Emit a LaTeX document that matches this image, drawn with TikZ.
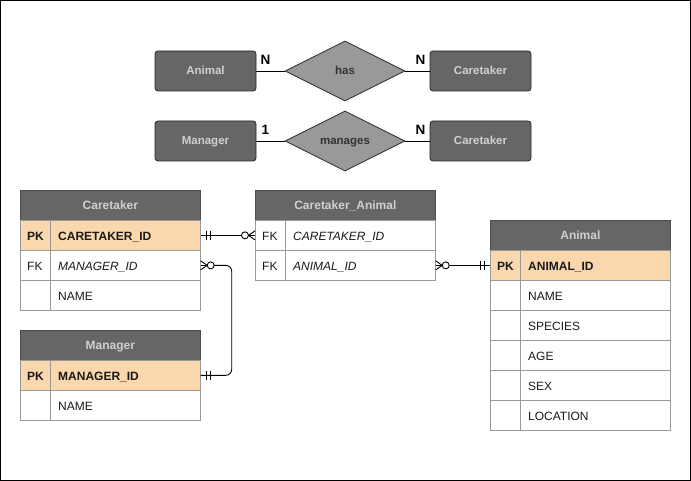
\documentclass[tikz,border=0pt]{standalone}
\usepackage{fontspec}
\setmainfont{Liberation Sans}
\usetikzlibrary{shapes.geometric}
\definecolor{hdrfill}{HTML}{666666}
\definecolor{hdrtext}{HTML}{D0D0D0}
\definecolor{pkfill}{HTML}{FAD7AC}
\definecolor{gridgray}{HTML}{999999}
\definecolor{relfill}{HTML}{999999}
\definecolor{reltext}{HTML}{333333}
\definecolor{ink}{HTML}{1A1A1A}
\newcommand\tblfont{\fontsize{12}{14}\selectfont}
\tikzset{
  entity/.style={draw=black!85, fill=hdrfill, rounded corners=3pt, minimum width=101pt,
    minimum height=40pt, inner sep=0pt, text height=8pt, text depth=0pt, text=hdrtext,
    font=\fontsize{11.5}{13}\selectfont\bfseries, line width=0.8pt},
  relation/.style={diamond, aspect=2, draw=black!85, fill=relfill, minimum width=120pt,
    minimum height=60pt, inner sep=0pt, text height=8pt, text depth=0pt, text=reltext,
    font=\fontsize{11.5}{13}\selectfont\bfseries, line width=0.8pt},
  card/.style={font=\fontsize{13.5}{15}\selectfont\bfseries, inner sep=0pt},
  hdr/.style={draw=black!70, fill=hdrfill, minimum width=180pt, minimum height=30pt, inner sep=0pt,
    text height=9pt, text depth=0pt, anchor=north west, text=hdrtext, font=\tblfont\bfseries, line width=0.7pt},
  row/.style={draw=gridgray, fill=white, minimum width=180pt, minimum height=30pt, inner sep=0pt,
    anchor=north west, line width=0.7pt},
  pkrow/.style={row, fill=pkfill},
  keytxt/.style={anchor=base west, inner sep=0pt, text=ink, font=\tblfont},
  fieldtxt/.style={anchor=base west, inner sep=0pt, text=ink, font=\tblfont},
  boldtxt/.style={font=\tblfont\bfseries},
  italtxt/.style={font=\tblfont\itshape},
  coldiv/.style={draw=gridgray, line width=0.7pt},
  conn/.style={draw=black, line width=0.9pt},
}
% baseline offsets inside a 30pt table row
\newcommand\keyat[1]{([xshift=7pt,yshift=-4.8pt]#1.west)}
\newcommand\fieldat[1]{([xshift=38pt,yshift=-4.8pt]#1.west)}
\begin{document}
\begin{tikzpicture}[x=1pt, y=-1pt]
  \useasboundingbox (0,0) rectangle (691,481);
  \draw[line width=1.3pt] (0.65,0.65) rectangle (690.35,480.35);

  % conceptual ER model
  \node[entity] (eAnimal) at (205.5,71) {Animal};
  \node[relation] (rHas) at (345,71) {has};
  \node[entity] (eCaretakerA) at (480.5,71) {Caretaker};
  \draw[conn] (eAnimal.east) -- (rHas.west);
  \draw[conn] (rHas.east) -- (eCaretakerA.west);
  \node[card] (cHasL) at (265.5,59.5) {N};
  \node[card] (cHasR) at (420.5,59.5) {N};

  \node[entity] (eManager) at (205.5,141) {Manager};
  \node[relation] (rManages) at (345,141) {manages};
  \node[entity] (eCaretakerB) at (480.5,141) {Caretaker};
  \draw[conn] (eManager.east) -- (rManages.west);
  \draw[conn] (rManages.east) -- (eCaretakerB.west);
  \node[card] (cManL) at (265.5,129.5) {1};
  \node[card] (cManR) at (420.5,129.5) {N};

  % table: Caretaker
  \node[hdr] (ctH) at (20,190) {Caretaker};
  \node[pkrow] (ctR1) at (20,220) {};
  \node[row] (ctR2) at (20,250) {};
  \node[row] (ctR3) at (20,280) {};
  \draw[coldiv] ([xshift=30pt]ctR1.north west) -- ([xshift=30pt]ctR3.south west);
  \node[keytxt, boldtxt] (ctK1) at \keyat{ctR1} {PK};
  \node[fieldtxt, boldtxt] (ctF1) at \fieldat{ctR1} {CARETAKER\_ID};
  \node[keytxt] (ctK2) at \keyat{ctR2} {FK};
  \node[fieldtxt, italtxt] (ctF2) at \fieldat{ctR2} {MANAGER\_ID};
  \node[fieldtxt] (ctF3) at \fieldat{ctR3} {NAME};

  % table: Manager
  \node[hdr] (mgH) at (20,330) {Manager};
  \node[pkrow] (mgR1) at (20,360) {};
  \node[row] (mgR2) at (20,390) {};
  \draw[coldiv] ([xshift=30pt]mgR1.north west) -- ([xshift=30pt]mgR2.south west);
  \node[keytxt, boldtxt] (mgK1) at \keyat{mgR1} {PK};
  \node[fieldtxt, boldtxt] (mgF1) at \fieldat{mgR1} {MANAGER\_ID};
  \node[fieldtxt] (mgF2) at \fieldat{mgR2} {NAME};

  % table: Caretaker_Animal
  \node[hdr] (caH) at (255,190) {Caretaker\_Animal};
  \node[row] (caR1) at (255,220) {};
  \node[row] (caR2) at (255,250) {};
  \draw[coldiv] ([xshift=30pt]caR1.north west) -- ([xshift=30pt]caR2.south west);
  \node[keytxt] (caK1) at \keyat{caR1} {FK};
  \node[fieldtxt, italtxt] (caF1) at \fieldat{caR1} {CARETAKER\_ID};
  \node[keytxt] (caK2) at \keyat{caR2} {FK};
  \node[fieldtxt, italtxt] (caF2) at \fieldat{caR2} {ANIMAL\_ID};

  % table: Animal
  \node[hdr] (anH) at (490,220) {Animal};
  \node[pkrow] (anR1) at (490,250) {};
  \node[row] (anR2) at (490,280) {};
  \node[row] (anR3) at (490,310) {};
  \node[row] (anR4) at (490,340) {};
  \node[row] (anR5) at (490,370) {};
  \node[row] (anR6) at (490,400) {};
  \draw[coldiv] ([xshift=30pt]anR1.north west) -- ([xshift=30pt]anR6.south west);
  \node[keytxt, boldtxt] (anK1) at \keyat{anR1} {PK};
  \node[fieldtxt, boldtxt] (anF1) at \fieldat{anR1} {ANIMAL\_ID};
  \node[fieldtxt] (anF2) at \fieldat{anR2} {NAME};
  \node[fieldtxt] (anF3) at \fieldat{anR3} {SPECIES};
  \node[fieldtxt] (anF4) at \fieldat{anR4} {AGE};
  \node[fieldtxt] (anF5) at \fieldat{anR5} {SEX};
  \node[fieldtxt] (anF6) at \fieldat{anR6} {LOCATION};

  % Caretaker (one, mandatory) -- Caretaker_Animal (zero or many)
  \draw[conn] (ctR1.east) -- ([xshift=-13.5pt]caR1.west);
  \draw[conn] ([xshift=6pt]ctR1.east) ++(0,-4.5) -- ++(0,9);
  \draw[conn] ([xshift=9.5pt]ctR1.east) ++(0,-4.5) -- ++(0,9);
  \draw[conn, fill=white] ([xshift=-10pt]caR1.west) circle (3.5pt);
  \draw[conn] ([yshift=4.5pt]caR1.west) -- ([xshift=-6.5pt]caR1.west) -- ([yshift=-4.5pt]caR1.west);
  \draw[conn] ([xshift=-6.5pt]caR1.west) -- (caR1.west);

  % Caretaker.MANAGER_ID (zero or many) -- Manager (one, mandatory)
  \draw[conn, rounded corners=6pt] ([xshift=13.5pt]ctR2.east) -- ++(17.5,0) |- (mgR1.east);
  \draw[conn, fill=white] ([xshift=10pt]ctR2.east) circle (3.5pt);
  \draw[conn] ([yshift=4.5pt]ctR2.east) -- ([xshift=6.5pt]ctR2.east) -- ([yshift=-4.5pt]ctR2.east);
  \draw[conn] (ctR2.east) -- ([xshift=6.5pt]ctR2.east);
  \draw[conn] ([xshift=6pt]mgR1.east) ++(0,-4.5) -- ++(0,9);
  \draw[conn] ([xshift=9.5pt]mgR1.east) ++(0,-4.5) -- ++(0,9);

  % Caretaker_Animal.ANIMAL_ID (zero or many) -- Animal (one, mandatory)
  \draw[conn] ([xshift=13.5pt]caR2.east) -- (anR1.west);
  \draw[conn, fill=white] ([xshift=10pt]caR2.east) circle (3.5pt);
  \draw[conn] ([yshift=4.5pt]caR2.east) -- ([xshift=6.5pt]caR2.east) -- ([yshift=-4.5pt]caR2.east);
  \draw[conn] (caR2.east) -- ([xshift=6.5pt]caR2.east);
  \draw[conn] ([xshift=-6pt]anR1.west) ++(0,-4.5) -- ++(0,9);
  \draw[conn] ([xshift=-9.5pt]anR1.west) ++(0,-4.5) -- ++(0,9);
\end{tikzpicture}
\end{document}
